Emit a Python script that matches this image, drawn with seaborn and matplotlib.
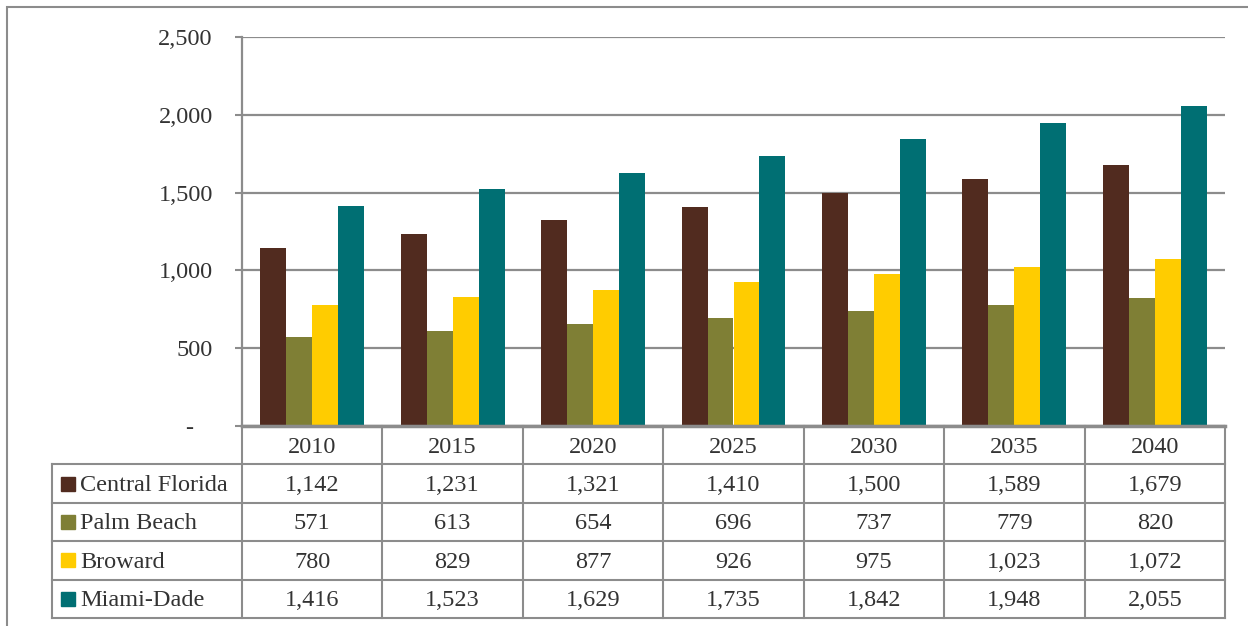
import pandas as pd
import seaborn as sns
import matplotlib.pyplot as plt
from matplotlib.patches import Rectangle
from matplotlib.ticker import FuncFormatter

# 数据
years = ['2010', '2015', '2020', '2025', '2030', '2035', '2040']
regions = ['Central Florida', 'Palm Beach', 'Broward', 'Miami-Dade']
central_florida = [1142, 1231, 1321, 1410, 1500, 1589, 1679]
palm_beach = [571, 613, 654, 696, 737, 779, 820]
broward = [780, 829, 877, 926, 975, 1023, 1072]
miami_dade = [1416, 1523, 1629, 1735, 1842, 1948, 2055]
colors = ['#512B1F', '#7F7F35', '#FFCC00', '#006F73']

values = [central_florida, palm_beach, broward, miami_dade]
df = pd.DataFrame({
    'year': years * len(regions),
    'region': [r for r in regions for _ in years],
    'value': [v for series in values for v in series],
})

sns.set_theme(style='white')
plt.rcParams['font.family'] = ['Liberation Serif', 'DejaVu Serif']
grey = '#8C8C8C'
txt = '#333333'
fs = 17.5

W, H = 1248, 626
fig = plt.figure(figsize=(W / 100, H / 100), dpi=100)

# 主图区域 (像素换算)
left, right, top, zero = 242, 1225, 37, 426
ax = fig.add_axes([left / W, (H - zero) / H, (right - left) / W, (zero - top) / H])
sns.barplot(data=df, x='year', y='value', hue='region', palette=colors,
            width=0.74, gap=0, saturation=1, linewidth=0, legend=False, ax=ax)
ax.set_xlim(-0.5, len(years) - 0.5)
ax.set_ylim(0, 2500)
ax.set_yticks(range(0, 2501, 500))
ax.yaxis.set_major_formatter(FuncFormatter(lambda v, p: '-   ' if v == 0 else f'{int(v):,}'))
ax.yaxis.grid(True, color=grey, lw=1.6)
ax.set_axisbelow(True)
ax.set_xlabel('')
ax.set_ylabel('')
ax.set_xticks([])
for s in ['top', 'right']:
    ax.spines[s].set_visible(False)
ax.spines['left'].set_color(grey)
ax.spines['left'].set_linewidth(1.6)
ax.spines['bottom'].set_color(grey)
ax.spines['bottom'].set_linewidth(2.5)
ax.tick_params(axis='y', length=5, width=1.5, color=grey, pad=16, labelsize=fs, labelcolor=txt, left=True)

# 数据表
tbl_left, tbl_bottom = 52, 618
cat_w = (right - left) / len(years)
label_w = (left - tbl_left) / cat_w
tax = fig.add_axes([tbl_left / W, (H - tbl_bottom) / H, (right - tbl_left) / W, (tbl_bottom - zero) / H])
x0 = -0.5 - label_w
tax.set_xlim(x0, len(years) - 0.5)
tax.set_ylim(len(regions) + 1, 0)
tax.axis('off')

lk = dict(color=grey, lw=1.5, clip_on=False, solid_capstyle='projecting')
tax.plot([-0.5, len(years) - 0.5], [0, 0], **lk)
for r in range(1, len(regions) + 2):
    tax.plot([x0, len(years) - 0.5], [r, r], **lk)
tax.plot([x0, x0], [1, len(regions) + 1], **lk)
for i in range(len(years) + 1):
    tax.plot([i - 0.5, i - 0.5], [0, len(regions) + 1], **lk)

for i, y in enumerate(years):
    tax.text(i, 0.55, y, ha='center', va='center', fontsize=fs, color=txt)
for r, (name, series, c) in enumerate(zip(regions, values, colors), start=1):
    sq = 14 / cat_w
    tax.add_patch(Rectangle((x0 + 9 / cat_w, r + 0.5 - 0.18), sq, 0.36, color=c, clip_on=False))
    tax.text(x0 + 28 / cat_w, r + 0.55, name, ha='left', va='center', fontsize=fs, color=txt)
    for i, v in enumerate(series):
        tax.text(i, r + 0.55, f'{v:,}', ha='center', va='center', fontsize=fs, color=txt)

# 外框
fig.patches.append(Rectangle((7 / W, -0.5), 2, 1.5 - 7 / H, transform=fig.transFigure,
                             fill=False, edgecolor=grey, lw=1.5))

fig.savefig('out.png', dpi=100)
